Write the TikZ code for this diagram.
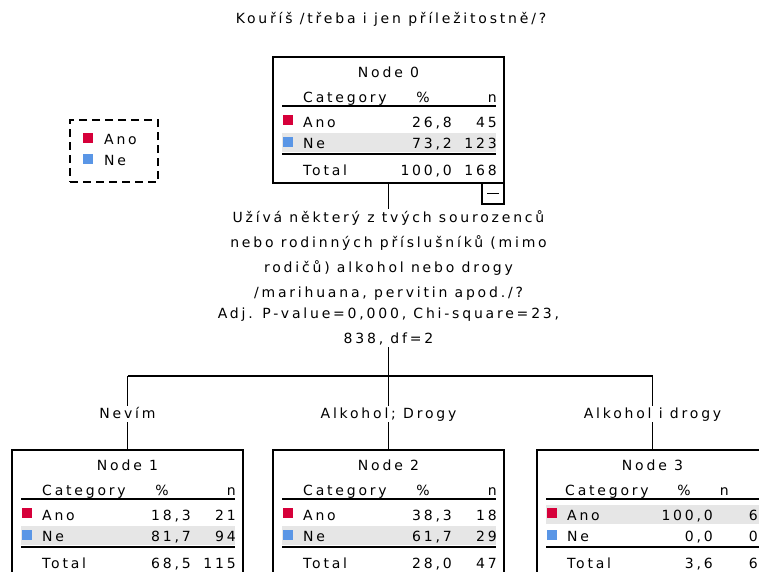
\documentclass[tikz,border=0pt]{standalone}
\usepackage{fontspec}
\newfontfamily\spss[LetterSpace=20]{DejaVu Sans}
\definecolor{catred}{RGB}{214,0,58}
\definecolor{catblue}{RGB}{90,150,230}
\definecolor{bandgray}{RGB}{230,230,230}
\newcommand\catrow[7]{% #1 name, #2 baseline, #3 label, #4 pct, #5 n, #6 pct right, #7 n right
  \node[txt, anchor=base west] (#1l) at (30,#2) {#3};
  \node[txt, anchor=base east] (#1p) at (#6,#2) {#4};
  \node[txt, anchor=base east] (#1n) at (#7,#2) {#5};}
\begin{document}
\begin{tikzpicture}[x=1pt,y=-1pt,
  txt/.style={font=\spss\fontsize{14}{17}\selectfont, inner sep=0pt},
  nodebox/.style={draw, line width=2pt, minimum width=231pt, minimum height=126pt, inner sep=0pt},
  bandfill/.style={fill=bandgray},
  thinrule/.style={line width=1.2pt},
  thickrule/.style={line width=2pt},
  conn/.style={line width=1.5pt},
  lab/.style={txt, text height=11pt, text depth=3pt, inner sep=1pt, fill=white},
  sqred/.style={fill=catred},
  sqblue/.style={fill=catblue}]
\useasboundingbox (0,0) rectangle (759,571);
\clip (0,0) rectangle (759,571);

% title
\node[txt, anchor=base] (title) at (391,23) {Kouříš /třeba i jen příležitostně/?};

% legend
\node[draw, dashed, dash pattern=on 8pt off 5pt, line width=1.5pt, minimum width=88pt, minimum height=62pt, inner sep=0pt] (legend) at (114,151) {};
\fill[sqred] (83,133) rectangle (93,143);
\fill[sqblue] (83,154) rectangle (93,164);
\node[txt, anchor=base west] (legano) at (104,144) {Ano};
\node[txt, anchor=base west] (legne) at (104,165) {Ne};

% Node 0
\begin{scope}[shift={(273,57)}]
  \fill[bandfill] (9,76) rectangle (223,95);
  \node[nodebox] (n0) at (115.5,63) {};
  \node[txt, anchor=base] (n0t) at (115.5,20) {Node 0};
  \node[txt, anchor=base west] (n0hc) at (30,45.5) {Category};
  \node[txt, anchor=base] (n0hp) at (150,45.5) {\%};
  \node[txt, anchor=base east] (n0hn) at (224,45.5) {n};
  \draw[thinrule] (9,49) -- (223,49);
  \fill[sqred] (10,58) rectangle (20,68);
  \fill[sqblue] (10,79.5) rectangle (20,89.5);
  \catrow{n0a}{70}{Ano}{26,8}{45}{179}{224}
  \catrow{n0b}{91.5}{Ne}{73,2}{123}{179}{224}
  \draw[thickrule] (9,97) -- (223,97);
  \catrow{n0c}{118}{Total}{100,0}{168}{179}{224}
\end{scope}
\node[draw, line width=1.5pt, minimum width=22pt, minimum height=21pt, inner sep=0pt] (collapse) at (493,193.5) {};
\draw[line width=1.5pt] ([xshift=-6pt]collapse.center) -- ([xshift=6pt]collapse.center);

% split text
\node[txt, font=\spss\fontsize{14}{25}\selectfont, align=center, anchor=north, inner sep=2pt] (split) at (388.5,208.5)
{Užívá některý z tvých sourozenců\\
nebo rodinných příslušníků (mimo\\
rodičů) alkohol nebo drogy\\
/marihuana, pervitin apod./?\\[-4pt]
Adj. P-value=0,000, Chi-square=23,\\
838, df=2};

\coordinate (j) at (388.5,376);
\coordinate (h1) at (127.5,376);
\coordinate (h3) at (652.5,376);
\draw[conn] (n0.south) -- (split.north);
\draw[conn] (split.south) -- (j);
\draw[conn] (h1) -- (h3);

% branch labels
\node[lab, anchor=base] (l1) at (127.5,418) {Nevím};
\node[lab, anchor=base] (l2) at (388.5,418) {Alkohol; Drogy};
\node[lab, anchor=base] (l3) at (652.5,418) {Alkohol i drogy};

% Node 1
\begin{scope}[shift={(12,450)}]
  \fill[bandfill] (9,76) rectangle (223,95);
  \node[nodebox] (n1) at (115.5,63) {};
  \node[txt, anchor=base] (n1t) at (115.5,20) {Node 1};
  \node[txt, anchor=base west] (n1hc) at (30,45.5) {Category};
  \node[txt, anchor=base] (n1hp) at (150,45.5) {\%};
  \node[txt, anchor=base east] (n1hn) at (224,45.5) {n};
  \draw[thinrule] (9,49) -- (223,49);
  \fill[sqred] (10,58) rectangle (20,68);
  \fill[sqblue] (10,79.5) rectangle (20,89.5);
  \catrow{n1a}{70}{Ano}{18,3}{21}{179}{224}
  \catrow{n1b}{91.5}{Ne}{81,7}{94}{179}{224}
  \draw[thickrule] (9,97) -- (223,97);
  \catrow{n1c}{118}{Total}{68,5}{115}{179}{224}
\end{scope}

% Node 2
\begin{scope}[shift={(273,450)}]
  \fill[bandfill] (9,76) rectangle (223,95);
  \node[nodebox] (n2) at (115.5,63) {};
  \node[txt, anchor=base] (n2t) at (115.5,20) {Node 2};
  \node[txt, anchor=base west] (n2hc) at (30,45.5) {Category};
  \node[txt, anchor=base] (n2hp) at (150,45.5) {\%};
  \node[txt, anchor=base east] (n2hn) at (224,45.5) {n};
  \draw[thinrule] (9,49) -- (223,49);
  \fill[sqred] (10,58) rectangle (20,68);
  \fill[sqblue] (10,79.5) rectangle (20,89.5);
  \catrow{n2a}{70}{Ano}{38,3}{18}{179}{224}
  \catrow{n2b}{91.5}{Ne}{61,7}{29}{179}{224}
  \draw[thickrule] (9,97) -- (223,97);
  \catrow{n2c}{118}{Total}{28,0}{47}{179}{224}
\end{scope}

% Node 3
\begin{scope}[shift={(537,450)}]
  \fill[bandfill] (9,54.5) rectangle (223,73.5);
  \node[nodebox] (n3) at (115.5,63) {};
  \node[txt, anchor=base] (n3t) at (115.5,20) {Node 3};
  \node[txt, anchor=base west] (n3hc) at (28,45.5) {Category};
  \node[txt, anchor=base] (n3hp) at (147,45.5) {\%};
  \node[txt, anchor=base east] (n3hn) at (192,45.5) {n};
  \draw[thinrule] (9,49) -- (223,49);
  \fill[sqred] (10,58) rectangle (20,68);
  \fill[sqblue] (10,79.5) rectangle (20,89.5);
  \catrow{n3a}{70}{Ano}{100,0}{6}{176}{221}
  \catrow{n3b}{91.5}{Ne}{0,0}{0}{176}{221}
  \draw[thickrule] (9,97) -- (223,97);
  \catrow{n3c}{118}{Total}{3,6}{6}{176}{221}
\end{scope}

\draw[conn] (h1) -- (l1.north);
\draw[conn] (l1.south) -- (n1.north);
\draw[conn] (j) -- (l2.north);
\draw[conn] (l2.south) -- (n2.north);
\draw[conn] (h3) -- (l3.north);
\draw[conn] (l3.south) -- (n3.north);
\end{tikzpicture}
\end{document}
